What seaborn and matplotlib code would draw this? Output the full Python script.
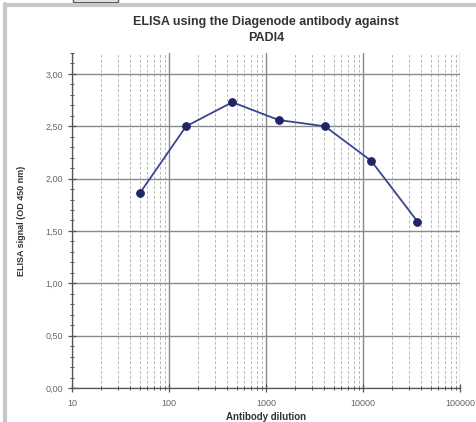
import numpy as np
import pandas as pd
import matplotlib.pyplot as plt
import matplotlib.ticker as mticker
from matplotlib.patches import Rectangle
from matplotlib.lines import Line2D
import seaborn as sns

# data
dilution = [50, 150, 450, 1350, 4050, 12150, 36450]
signal = [1.86, 2.50, 2.73, 2.56, 2.50, 2.17, 1.59]
y_ticks = [0.0, 0.5, 1.0, 1.5, 2.0, 2.5, 3.0]
x_ticks = [10, 100, 1000, 10000, 100000]

df = pd.DataFrame({'dilution': dilution, 'signal': signal})

sns.set_style("white")
plt.rcParams['font.family'] = ['Liberation Sans', 'DejaVu Sans']

fig = plt.figure(figsize=(4.77, 4.22), dpi=100)
ax = fig.add_axes([72 / 477, 1 - 388 / 422, 388 / 477, 335 / 422])

sns.lineplot(data=df, x='dilution', y='signal', ax=ax, color='#3a4590',
             linewidth=1.3, marker='o', markersize=5.5,
             markerfacecolor='#1f2466', markeredgecolor='#1f2466')

ax.set_xscale('log')
ax.set_xlim(10, 100000)
ax.set_ylim(0, 3.2)
ax.set_xticks(x_ticks)
ax.set_xticklabels([str(v) for v in x_ticks])
ax.xaxis.set_minor_locator(mticker.LogLocator(base=10, subs=np.arange(2, 10)))
ax.xaxis.set_minor_formatter(mticker.NullFormatter())
ax.set_yticks(y_ticks)
ax.set_yticklabels([f'{v:.2f}'.replace('.', ',') for v in y_ticks])
ax.yaxis.set_minor_locator(mticker.MultipleLocator(0.1))

# grid
ax.grid(which='major', axis='both', color='#8a8a8a', linewidth=1.0, linestyle='-')
ax.grid(which='minor', axis='x', color='#b8b8b8', linewidth=0.7, linestyle=(0, (3, 2)))
ax.set_axisbelow(True)

for s in ['top', 'right']:
    ax.spines[s].set_visible(False)
for s in ['left', 'bottom']:
    ax.spines[s].set_color('#555555')
    ax.spines[s].set_linewidth(0.9)

ax.tick_params(which='major', direction='inout', length=6, width=0.9, color='#555555',
               labelsize=6.5, labelcolor='#666666', left=True, bottom=True)
ax.tick_params(which='minor', direction='inout', length=3, width=0.7, color='#555555',
               left=True, bottom=True)
ax.tick_params(axis='x', which='major', pad=5)

ax.set_xlabel('Antibody dilution', fontsize=7, fontweight='bold', color='#333333', labelpad=3)
ax.set_ylabel('ELISA signal (OD 450 nm)', fontsize=6.5, fontweight='bold', color='#333333', labelpad=14)

fig.text(266 / 477, 1 - 22 / 422, 'ELISA using the Diagenode antibody against',
         ha='center', va='center', fontsize=9, fontweight='bold', color='#333333')
fig.text(266 / 477, 1 - 38 / 422, 'PADI4',
         ha='center', va='center', fontsize=9, fontweight='bold', color='#333333')

# frame around the picture
fig.add_artist(Line2D([5.5 / 477, 5.5 / 477], [0, 1 - 4 / 422], color='#c8c8c8', linewidth=3))
fig.add_artist(Line2D([5.5 / 477, 1], [1 - 4.5 / 422, 1 - 4.5 / 422], color='#c8c8c8', linewidth=3))
fig.add_artist(Rectangle((73 / 477, 1 - 2 / 422), 45 / 477, 3 / 422, fill=False,
                         edgecolor='#555555', linewidth=1.0))

fig.savefig('out.png', dpi=100)
